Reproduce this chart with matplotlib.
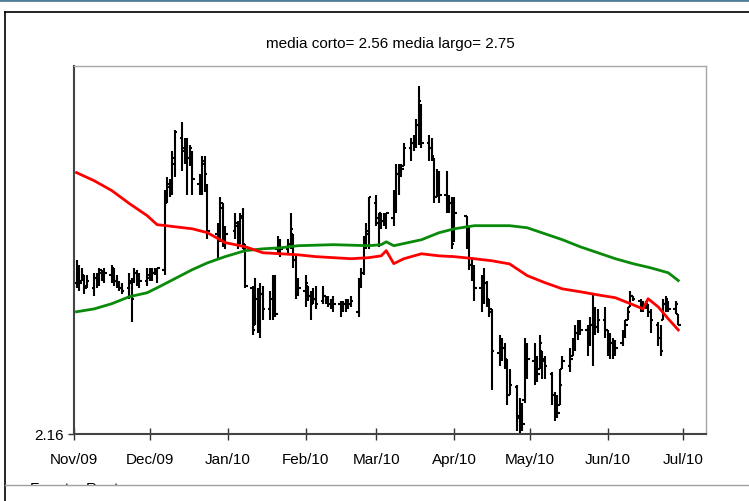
import numpy as np
import pandas as pd
import matplotlib
matplotlib.use("Agg")
import matplotlib.pyplot as plt
import matplotlib.dates as mdates
from matplotlib.lines import Line2D
from matplotlib.patches import Rectangle

plt.rcParams['font.family'] = ['Liberation Sans', 'DejaVu Sans']

# trading days (weekdays without market holidays)
dias = pd.bdate_range("2009-11-02", "2010-06-29")
dias = dias.drop(pd.to_datetime(["2009-12-25", "2010-01-01", "2010-04-02", "2010-04-05"]))

maximos = [
    2.83, 2.81, 2.80, 2.77, 2.77, 2.78, 2.78, 2.80, 2.79, 2.80, 2.81, 2.80, 2.77, 2.75, 2.74, 2.78, 2.76, 2.80, 2.79, 2.78, 2.80,
    2.80, 2.80, 2.80, 2.80, 3.10, 3.15, 3.14, 3.25, 3.33, 3.36, 3.30, 3.30, 3.27, 3.25, 3.16, 3.23, 3.23, 3.12, 2.97, 3.07, 3.05, 2.96,
    3.01, 2.98, 3.01, 3.03, 2.89, 2.73, 2.76, 2.72, 2.74, 2.73, 2.71, 2.77, 2.77, 2.92, 2.91, 2.91, 3.01, 2.93, 2.85, 2.76,
    2.77, 2.73, 2.71, 2.72, 2.73, 2.73, 2.69, 2.69, 2.68, 2.69, 2.67, 2.67, 2.68, 2.68, 2.69, 2.76, 2.80, 2.92, 2.97, 3.07,
    3.08, 3.01, 3.01, 3.01, 3.01, 3.10, 3.20, 3.20, 3.20, 3.28, 3.30, 3.31, 3.37, 3.50, 3.43, 3.31, 3.30, 3.22, 3.18, 3.17, 3.17, 3.08, 3.07,
    3.07, 3.00, 2.96, 2.84, 2.81, 2.77, 2.80, 2.75, 2.68, 2.64, 2.54, 2.53, 2.51, 2.45, 2.41, 2.35, 2.30, 2.28, 2.53, 2.51,
    2.51, 2.46, 2.54, 2.48, 2.46, 2.40, 2.32, 2.31, 2.41, 2.46, 2.49, 2.53, 2.58, 2.60, 2.60, 2.58, 2.61, 2.70, 2.65, 2.64, 2.65,
    2.56, 2.55, 2.53, 2.52, 2.56, 2.60, 2.65, 2.71, 2.69, 2.68, 2.67, 2.67, 2.66, 2.64, 2.59, 2.58, 2.68, 2.69, 2.67, 2.67, 2.62,
]
minimos = [
    2.72, 2.71, 2.75, 2.70, 2.72, 2.69, 2.72, 2.73, 2.75, 2.74, 2.74, 2.73, 2.72, 2.71, 2.70, 2.68, 2.59, 2.74, 2.73, 2.72, 2.73,
    2.75, 2.75, 2.77, 2.74, 2.77, 3.05, 3.07, 3.08, 3.15, 3.17, 3.20, 3.08, 3.19, 3.08, 3.08, 3.08, 3.09, 2.91, 2.83, 2.90, 2.88, 2.87,
    2.91, 2.87, 2.89, 2.87, 2.72, 2.54, 2.58, 2.55, 2.53, 2.60, 2.60, 2.60, 2.61, 2.85, 2.84, 2.85, 2.87, 2.80, 2.68, 2.69,
    2.65, 2.67, 2.60, 2.66, 2.64, 2.66, 2.66, 2.65, 2.64, 2.63, 2.61, 2.63, 2.63, 2.64, 2.65, 2.61, 2.72, 2.77, 2.87, 2.87,
    2.96, 2.88, 2.95, 2.96, 2.95, 2.96, 3.01, 3.08, 3.15, 3.19, 3.21, 3.25, 3.26, 3.27, 3.26, 3.21, 3.21, 3.05, 3.07, 3.05, 3.01, 3.01, 2.87,
    2.90, 2.87, 2.79, 2.75, 2.67, 2.63, 2.66, 2.65, 2.61, 2.33, 2.42, 2.44, 2.41, 2.27, 2.31, 2.17, 2.16, 2.17, 2.28, 2.37,
    2.35, 2.36, 2.41, 2.37, 2.37, 2.27, 2.21, 2.22, 2.27, 2.41, 2.40, 2.46, 2.48, 2.52, 2.54, 2.46, 2.50, 2.42, 2.54, 2.55, 2.53,
    2.46, 2.45, 2.45, 2.46, 2.50, 2.53, 2.60, 2.65, 2.67, 2.63, 2.63, 2.64, 2.61, 2.55, 2.50, 2.46, 2.60, 2.63, 2.63, 2.62, 2.58,
]
aperturas = [
    2.74, 2.78, 2.75, 2.77, 2.73, 2.72, 2.76, 2.74, 2.78, 2.77, 2.77, 2.79, 2.75, 2.73, 2.72, 2.72, 2.74, 2.75, 2.78, 2.74, 2.75,
    2.76, 2.79, 2.78, 2.79, 2.79, 3.07, 3.11, 3.10, 3.20, 3.30, 3.26, 3.28, 3.22, 3.24, 3.12, 3.13, 3.20, 3.10, 2.93, 2.92, 3.03, 2.91,
    2.94, 2.96, 2.91, 2.99, 2.87, 2.72, 2.58, 2.68, 2.62, 2.70, 2.64, 2.68, 2.75, 2.87, 2.89, 2.87, 2.89, 2.93, 2.83, 2.73,
    2.71, 2.73, 2.69, 2.67, 2.68, 2.67, 2.69, 2.67, 2.66, 2.67, 2.66, 2.64, 2.66, 2.67, 2.66, 2.63, 2.74, 2.78, 2.89, 2.93,
    3.05, 2.97, 3.00, 2.98, 3.00, 2.99, 3.07, 3.16, 3.17, 3.19, 3.26, 3.28, 3.29, 3.35, 3.41, 3.28, 3.26, 3.22, 3.07, 3.13, 3.08, 3.07, 3.05,
    2.91, 3.00, 2.91, 2.81, 2.77, 2.72, 2.68, 2.74, 2.66, 2.63, 2.47, 2.51, 2.49, 2.44, 2.31, 2.34, 2.23, 2.19, 2.29, 2.47,
    2.44, 2.41, 2.41, 2.48, 2.44, 2.39, 2.31, 2.26, 2.27, 2.41, 2.42, 2.46, 2.50, 2.55, 2.58, 2.56, 2.53, 2.58, 2.63, 2.57, 2.60,
    2.56, 2.49, 2.51, 2.47, 2.51, 2.55, 2.60, 2.65, 2.69, 2.67, 2.66, 2.65, 2.66, 2.63, 2.58, 2.53, 2.60, 2.66, 2.67, 2.64, 2.62,
]
cierres = [
    2.78, 2.74, 2.77, 2.72, 2.75, 2.76, 2.74, 2.79, 2.77, 2.78, 2.80, 2.75, 2.73, 2.72, 2.71, 2.75, 2.68, 2.78, 2.75, 2.75, 2.77,
    2.79, 2.78, 2.79, 2.80, 3.05, 3.12, 3.10, 3.22, 3.32, 3.25, 3.28, 3.22, 3.26, 3.14, 3.13, 3.21, 3.16, 2.94, 2.91, 3.05, 2.91, 2.93,
    2.97, 2.89, 3.00, 2.89, 2.73, 2.56, 2.68, 2.61, 2.70, 2.64, 2.68, 2.75, 2.62, 2.90, 2.87, 2.89, 2.95, 2.83, 2.73, 2.72,
    2.74, 2.69, 2.66, 2.68, 2.66, 2.69, 2.67, 2.66, 2.67, 2.66, 2.64, 2.66, 2.67, 2.66, 2.67, 2.74, 2.78, 2.89, 2.94, 3.07,
    2.99, 3.01, 2.98, 3.00, 3.01, 3.08, 3.16, 3.17, 3.18, 3.26, 3.28, 3.30, 3.35, 3.44, 3.28, 3.26, 3.23, 3.07, 3.14, 3.08, 3.07, 3.05, 2.89,
    3.01, 2.91, 2.81, 2.77, 2.72, 2.68, 2.74, 2.68, 2.64, 2.48, 2.51, 2.49, 2.45, 2.31, 2.35, 2.22, 2.19, 2.20, 2.48, 2.45,
    2.40, 2.39, 2.51, 2.45, 2.42, 2.31, 2.26, 2.24, 2.35, 2.44, 2.45, 2.51, 2.55, 2.58, 2.56, 2.53, 2.58, 2.64, 2.57, 2.60, 2.56,
    2.49, 2.51, 2.47, 2.49, 2.55, 2.58, 2.63, 2.69, 2.68, 2.66, 2.65, 2.66, 2.63, 2.60, 2.53, 2.48, 2.66, 2.68, 2.64, 2.66, 2.58,
]

# media corta (rojo) y media larga (verde)
fechas_corto = ["2009-11-02", "2009-11-09", "2009-11-16", "2009-11-23", "2009-11-30", "2009-12-04", "2009-12-11",
                "2009-12-18", "2009-12-24", "2009-12-31", "2010-01-08", "2010-01-15", "2010-01-22", "2010-01-29",
                "2010-02-05", "2010-02-12", "2010-02-19", "2010-02-26", "2010-03-03", "2010-03-05", "2010-03-08",
                "2010-03-12", "2010-03-19", "2010-03-26", "2010-04-01", "2010-04-09", "2010-04-16", "2010-04-23",
                "2010-04-30", "2010-05-07", "2010-05-14", "2010-05-21", "2010-05-28", "2010-06-04", "2010-06-11",
                "2010-06-15", "2010-06-17", "2010-06-21", "2010-06-25", "2010-06-29"]
media_corto = [3.165, 3.134, 3.096, 3.046, 3.000, 2.965, 2.957, 2.949, 2.934, 2.896, 2.880, 2.857, 2.853, 2.849,
               2.842, 2.838, 2.834, 2.838, 2.845, 2.865, 2.815, 2.834, 2.853, 2.845, 2.842, 2.834, 2.826, 2.814,
               2.769, 2.742, 2.718, 2.707, 2.695, 2.684, 2.657, 2.641, 2.680, 2.649, 2.603, 2.56]

fechas_largo = ["2009-11-02", "2009-11-09", "2009-11-16", "2009-11-23", "2009-11-30", "2009-12-04", "2009-12-11",
                "2009-12-18", "2009-12-24", "2009-12-31", "2010-01-08", "2010-01-15", "2010-01-22", "2010-01-29",
                "2010-02-12", "2010-02-26", "2010-03-03", "2010-03-05", "2010-03-08", "2010-03-19", "2010-03-26",
                "2010-04-01", "2010-04-09", "2010-04-23", "2010-04-30", "2010-05-07", "2010-05-14", "2010-05-21",
                "2010-05-28", "2010-06-04", "2010-06-11", "2010-06-18", "2010-06-25", "2010-06-29"]
media_largo = [2.630, 2.641, 2.661, 2.688, 2.703, 2.722, 2.757, 2.792, 2.818, 2.842, 2.865, 2.872, 2.876, 2.884,
               2.888, 2.884, 2.888, 2.899, 2.884, 2.907, 2.934, 2.949, 2.961, 2.961, 2.953, 2.930, 2.907, 2.880,
               2.857, 2.834, 2.815, 2.799, 2.780, 2.75]

meses = ["2009-11-01", "2009-12-01", "2010-01-01", "2010-02-01", "2010-03-01", "2010-04-01",
         "2010-05-01", "2010-06-01", "2010-07-01"]

assert len(maximos) == len(minimos) == len(aperturas) == len(cierres) == len(dias)

fig = plt.figure(figsize=(7.49, 5.02), dpi=100)
ax = fig.add_axes([74/749, 1-435/502, 632/749, 368/502])

x = mdates.date2num(dias)
ax.vlines(x, minimos, maximos, color='black', lw=1.5)
ax.hlines(aperturas, x-1.0, x, color='black', lw=1.5)
ax.hlines(cierres, x, x+1.0, color='black', lw=1.5)

ax.plot(pd.to_datetime(fechas_largo), media_largo, color='#0a8a0a', lw=2.0)
ax.plot(pd.to_datetime(fechas_corto), media_corto, color='#ff0000', lw=2.0)

ax.set_xlim(pd.Timestamp("2009-11-01"), pd.Timestamp("2010-07-10"))
ax.set_ylim(2.16, 3.575)
ax.set_xticks(pd.to_datetime(meses))
ax.xaxis.set_major_formatter(mdates.DateFormatter('%b/%y'))
ax.set_yticks([2.16])
ax.set_yticklabels(['2.16'])
ax.tick_params(axis='x', direction='inout', length=8, width=1, colors='#333333', labelcolor='black',
               labelsize=11, pad=9)
ax.tick_params(axis='y', direction='out', length=4, width=1, colors='#333333', labelcolor='black', labelsize=11)
for s in ['left', 'bottom']:
    ax.spines[s].set_color('#444444')
    ax.spines[s].set_linewidth(1.5)
for s in ['top', 'right']:
    ax.spines[s].set_color('#a8a8a8')
    ax.spines[s].set_linewidth(1.0)

ax.set_title('media corto= 2.56 media largo= 2.75', fontsize=11, pad=14)

# marco exterior y pie
fig.add_artist(Line2D([0, 1], [1-1/502, 1-1/502], color='#4f7f97', lw=2))
fig.add_artist(Line2D([5/749, 1], [1-13/502, 1-13/502], color='black', lw=1.2))
fig.add_artist(Line2D([5/749, 5/749], [0, 1-13/502], color='black', lw=1.2))
fig.text(30/749, 1-482/502, 'Fuente: Reuters', fontsize=11, va='top')
fig.add_artist(Rectangle((6/749, 0), 1, 1-486/502, facecolor='white', edgecolor='none', zorder=5))
fig.add_artist(Line2D([5/749, 1], [1-486/502, 1-486/502], color='#a0a0a0', lw=1, zorder=6))

fig.savefig('out.png', dpi=100)
